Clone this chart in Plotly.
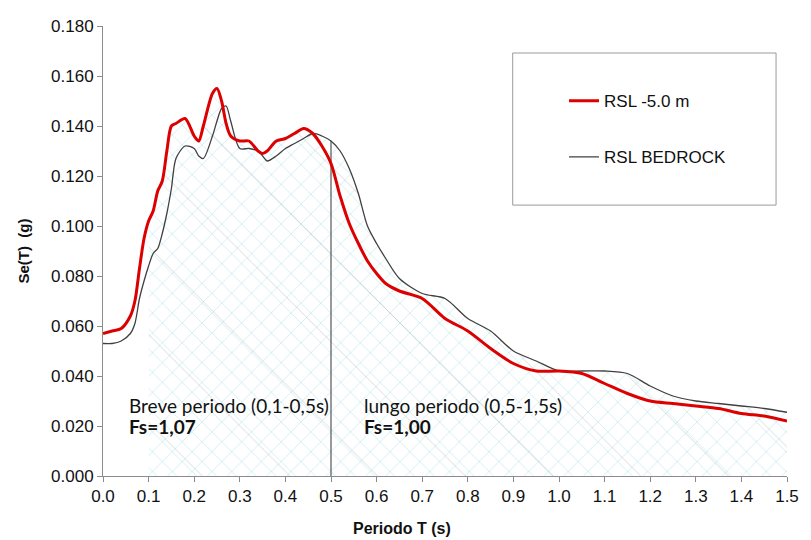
import numpy as np
import plotly.graph_objects as go

# Periods (s) and spectral accelerations (g)
period = [0.00, 0.02, 0.04, 0.06, 0.07, 0.08, 0.09, 0.10, 0.11, 0.12, 0.13, 0.14,
          0.15, 0.16, 0.18, 0.20, 0.21, 0.22, 0.24, 0.25, 0.26, 0.27, 0.28, 0.30,
          0.32, 0.34, 0.35, 0.36, 0.38, 0.40, 0.42, 0.44, 0.46, 0.48, 0.50, 0.52,
          0.54, 0.56, 0.58, 0.60, 0.62, 0.65, 0.70, 0.75, 0.80, 0.85, 0.90, 0.95,
          1.00, 1.05, 1.10, 1.15, 1.20, 1.25, 1.30, 1.35, 1.40, 1.45, 1.50]

rsl_5m = [0.057, 0.058, 0.059, 0.064, 0.070, 0.083, 0.095, 0.102, 0.106, 0.114, 0.118, 0.130,
          0.140, 0.141, 0.143, 0.136, 0.134, 0.140, 0.153, 0.155, 0.150, 0.141, 0.136, 0.134,
          0.134, 0.130, 0.129, 0.130, 0.134, 0.135, 0.137, 0.139, 0.137, 0.132, 0.125, 0.112,
          0.101, 0.093, 0.086, 0.081, 0.077, 0.074, 0.071, 0.063, 0.058, 0.051, 0.045, 0.042,
          0.042, 0.041, 0.037, 0.033, 0.030, 0.029, 0.028, 0.027, 0.025, 0.024, 0.022]

rsl_bedrock = [0.053, 0.053, 0.054, 0.057, 0.061, 0.071, 0.078, 0.084, 0.089, 0.091, 0.097, 0.105,
               0.115, 0.127, 0.132, 0.131, 0.128, 0.127, 0.136, 0.142, 0.147, 0.148, 0.142, 0.131,
               0.131, 0.130, 0.128, 0.126, 0.128, 0.131, 0.133, 0.135, 0.137, 0.136, 0.134, 0.130,
               0.123, 0.113, 0.100, 0.093, 0.087, 0.079, 0.073, 0.071, 0.063, 0.058, 0.050, 0.046,
               0.042, 0.042, 0.042, 0.041, 0.036, 0.032, 0.030, 0.029, 0.028, 0.027, 0.0255]

x_ticks = [round(0.1 * i, 1) for i in range(16)]
y_ticks = [0.02 * i for i in range(10)]

T = np.array(period)
R = np.array(rsl_5m)
B = np.array(rsl_bedrock)

# hatched band 0.1 - 1.5 s under the upper envelope of the two spectra
mask = T >= 0.1 - 1e-9
env_x = T[mask]
env_y = np.maximum(R, B)[mask]

fig = go.Figure()

fig.add_trace(go.Scatter(
    x=env_x, y=env_y, mode="lines", line=dict(width=0, shape="spline"),
    fill="tozeroy", fillcolor="rgba(255,255,255,0)",
    fillpattern=dict(shape="x", size=14, solidity=0.13, fgcolor="#a9dde3",
                     bgcolor="rgba(255,255,255,0)", fillmode="overlay"),
    showlegend=False, hoverinfo="skip"))
fig.add_trace(go.Scatter(
    x=env_x, y=env_y, mode="lines", line=dict(width=0, shape="spline"),
    fill="tozeroy", fillcolor="rgba(255,255,255,0)",
    fillpattern=dict(shape="\\", size=62, solidity=0.012, fgcolor="#90a4a8",
                     bgcolor="rgba(255,255,255,0)", fillmode="overlay"),
    showlegend=False, hoverinfo="skip"))

# divider between short and long period ranges
b_half = float(B[np.argmin(np.abs(T - 0.5))])
fig.add_trace(go.Scatter(
    x=[0.5, 0.5], y=[0, b_half], mode="lines",
    line=dict(color="#555555", width=1.2), showlegend=False, hoverinfo="skip"))

fig.add_trace(go.Scatter(
    x=period, y=rsl_bedrock, mode="lines", name="RSL BEDROCK",
    line=dict(color="#404040", width=1.3, shape="spline", smoothing=0.8),
    legendgroup="b", legendrank=2))
fig.add_trace(go.Scatter(
    x=period, y=rsl_5m, mode="lines", name="RSL -5.0 m",
    line=dict(color="#dd0000", width=3, shape="spline", smoothing=0.8),
    legendgroup="a", legendrank=1))

sans = "Liberation Sans, Arial, sans-serif"
axis_font = dict(family=sans, size=17, color="#111111")

fig.update_xaxes(
    range=[0, 1.5], tickvals=x_ticks, ticktext=[f"{v:.1f}" for v in x_ticks],
    showgrid=False, zeroline=False, showline=True, linecolor="#8c8c8c", linewidth=1,
    ticks="outside", ticklen=5, tickcolor="#8c8c8c", tickfont=axis_font)
fig.update_yaxes(
    range=[0, 0.18], tickvals=y_ticks, ticktext=[f"{v:.3f}" for v in y_ticks],
    showgrid=False, zeroline=False, showline=True, linecolor="#8c8c8c", linewidth=1,
    ticks="outside", ticklen=5, tickcolor="#8c8c8c", tickfont=axis_font,
    title=dict(text="<b>Se(T)\u00a0 (g)</b>", font=dict(family=sans, size=15, color="#111111"),
               standoff=17))

# x-axis title centred on the page width
fig.add_annotation(x=(405.5 - 103) / 693, y=-52 / 450, xref="paper", yref="paper",
                   xanchor="center", yanchor="middle", showarrow=False,
                   text="<b>Periodo T (s)</b>", font=dict(family=sans, size=16, color="#111111"))

note_font = dict(family="Lato, Noto Sans, sans-serif", size=19, color="#111111")
notes = [
    (0.052, 0.0284, "Breve periodo (0,1-0,5s)"),
    (0.052, 0.0200, "<b>Fs=1,07</b>"),
    (0.567, 0.0284, "lungo periodo (0,5-1,5s)"),
    (0.567, 0.0200, "<b>Fs=1,00</b>"),
]
for nx, ny, txt in notes:
    fig.add_annotation(x=nx, y=ny, xref="x", yref="y", xanchor="left", yanchor="middle",
                       align="left", showarrow=False, font=note_font, text=txt)

# legend frame
fig.add_shape(type="rect", xref="paper", yref="paper", x0=0.599, x1=0.984, y0=0.602, y1=0.94,
              line=dict(color="#9a9a9a", width=1), fillcolor="white", layer="below")

fig.update_layout(
    width=811, height=540, margin=dict(l=103, r=15, t=26, b=64),
    paper_bgcolor="white", plot_bgcolor="white",
    legend=dict(x=0.674, y=0.873, xanchor="left", yanchor="top", bgcolor="rgba(0,0,0,0)",
                font=dict(family=sans, size=17, color="#111111"),
                tracegroupgap=31, itemwidth=30),
    showlegend=True,
)

fig.write_html("out.html")
